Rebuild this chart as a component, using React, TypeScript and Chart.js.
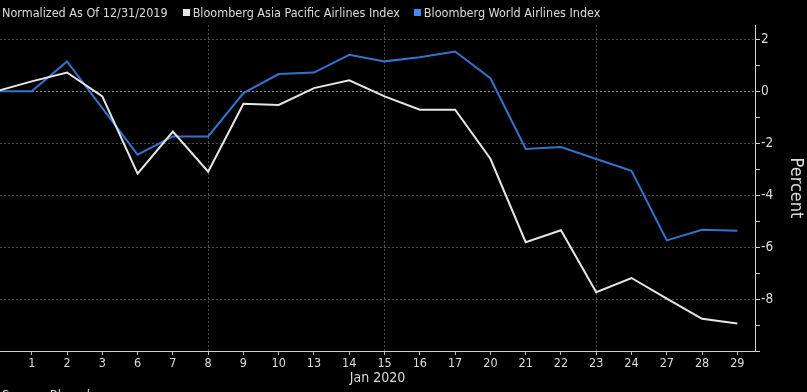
import React, { useEffect, useRef } from "react";
import { Chart, registerables } from "chart.js";

Chart.register(...registerables);

// Trading days, Dec 31 2019 (unlabelled base) through Jan 29 2020
const dayLabels = ["", "1", "2", "3", "6", "7", "8", "9", "10", "13", "14", "15", "16", "17", "20", "21", "22", "23", "24", "27", "28", "29"];
const asiaPacific = [0, 0.38, 0.72, -0.2, -3.17, -1.55, -3.1, -0.48, -0.53, 0.12, 0.42, -0.2, -0.71, -0.71, -2.6, -5.81, -5.35, -7.74, -7.19, -7.98, -8.76, -8.94];
const worldAirlines = [0, 0, 1.15, -0.65, -2.44, -1.74, -1.74, -0.07, 0.66, 0.72, 1.4, 1.15, 1.31, 1.53, 0.5, -2.22, -2.15, -2.61, -3.06, -5.74, -5.33, -5.37];
const yTickLabels = [2, 0, -2, -4, -6, -8];
const weekGridDays = ["8", "15", "23"];

const seriesNames = ["Bloomberg Asia Pacific Airlines Index", "Bloomberg World Airlines Index"];
const noteText = "Normalized As Of 12/31/2019";

const FONT = "'DejaVu Sans Condensed', 'DejaVu Sans', sans-serif";
const WHITE_LINE = "#e6e6e6";
const BLUE_LINE = "#3472cf";
const TEXT = "#dcdcdc";

export default function App() {
  const ref = useRef<HTMLCanvasElement | null>(null);

  useEffect(() => {
    if (!ref.current) return;
    const chart = new Chart(ref.current, {
      type: "line",
      data: {
        datasets: [
          {
            label: seriesNames[0],
            data: asiaPacific.map((v, i) => ({ x: i, y: v })),
            borderColor: WHITE_LINE,
            borderWidth: 2,
            pointRadius: 0,
            tension: 0,
          },
          {
            label: seriesNames[1],
            data: worldAirlines.map((v, i) => ({ x: i, y: v })),
            borderColor: BLUE_LINE,
            borderWidth: 2,
            pointRadius: 0,
            tension: 0,
          },
        ],
      },
      options: {
        responsive: false,
        animation: false,
        layout: { padding: { top: 25, left: 0, right: 0, bottom: 0 } },
        plugins: {
          legend: { display: false },
          tooltip: { enabled: false },
        },
        scales: {
          x: {
            type: "linear",
            min: 0.1,
            max: 21.5,
            afterFit: (s: any) => {
              s.height = 41;
            },
            ticks: {
              stepSize: 1,
              maxTicksLimit: 100,
              includeBounds: false,
              autoSkip: false,
              maxRotation: 0,
              padding: 1,
              color: TEXT,
              font: { family: FONT, size: 12.5 },
              callback: (v: any) => dayLabels[v] ?? "",
            },
            grid: {
              color: (ctx: any) =>
                weekGridDays.includes(dayLabels[ctx.tick?.value]) ? "rgba(255,255,255,0.3)" : "rgba(0,0,0,0)",
              tickColor: "#bdbdbd",
              tickLength: 4,
              lineWidth: 1,
            },
            border: { display: true, color: "#cfcfcf", width: 1, dash: [2, 2] },
            title: {
              display: true,
              text: "Jan 2020",
              color: TEXT,
              font: { family: FONT, size: 14 },
              padding: { top: 0, bottom: 5 },
            },
          },
          y: {
            position: "right",
            min: -10,
            max: 2.55,
            afterFit: (s: any) => {
              s.width = 52;
            },
            ticks: {
              stepSize: 1,
              maxTicksLimit: 100,
              includeBounds: false,
              autoSkip: false,
              padding: 1,
              color: TEXT,
              font: { family: FONT, size: 13.5 },
              callback: (v: any) => (yTickLabels.includes(v) ? String(v) : ""),
            },
            grid: {
              color: (ctx: any) => {
                const v = ctx.tick?.value;
                if (v === 0) return "rgba(255,255,255,0.55)";
                if (yTickLabels.includes(v)) return "rgba(255,255,255,0.3)";
                return "rgba(0,0,0,0)";
              },
              tickColor: "#cfcfcf",
              tickLength: 5,
              lineWidth: 1,
            },
            border: { display: true, color: "#cfcfcf", width: 1, dash: [2, 2] },
            title: {
              display: true,
              text: "Percent",
              color: TEXT,
              font: { family: FONT, size: 18 },
              padding: { top: 1, bottom: 0 },
            },
          },
        },
      },
    });
    return () => chart.destroy();
  }, []);

  const box = (c: string) => ({
    display: "inline-block",
    width: 7,
    height: 7,
    background: c,
    marginRight: 3,
    verticalAlign: "middle",
    position: "relative" as const,
    top: -1,
  });

  return (
    <div
      style={{
        position: "fixed",
        left: 0,
        top: 0,
        width: 807,
        height: 392,
        background: "#000",
        overflow: "hidden",
      }}
    >
      <canvas ref={ref} width={807} height={392} style={{ position: "absolute", left: 0, top: 0 }} />
      <div
        style={{
          position: "absolute",
          left: 2,
          top: 5,
          fontFamily: FONT,
          fontSize: 12.5,
          color: TEXT,
          whiteSpace: "nowrap",
          lineHeight: "16px",
        }}
      >
        <span>{noteText}</span>
        <span style={{ ...box(WHITE_LINE), marginLeft: 15 }} />
        <span>{seriesNames[0]}</span>
        <span style={{ ...box("#3b8ff0"), marginLeft: 14 }} />
        <span>{seriesNames[1]}</span>
      </div>
      <div
        style={{
          position: "absolute",
          left: 2,
          top: 387,
          fontFamily: FONT,
          fontSize: 13,
          color: TEXT,
          whiteSpace: "nowrap",
        }}
      >
        Source: Bloomberg
      </div>
    </div>
  );
}
